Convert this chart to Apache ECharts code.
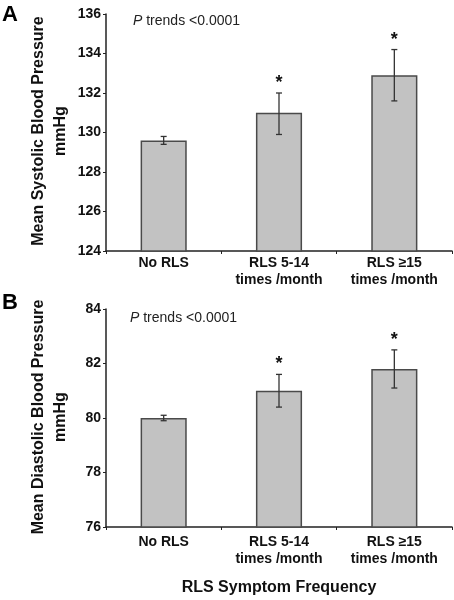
<!DOCTYPE html>
<html>
<head>
<meta charset="utf-8">
<script src="https://cdn.jsdelivr.net/npm/echarts@6/dist/echarts.min.js"></script>
<style>
html,body{margin:0;padding:0;background:#fff;}
#chart{width:454px;height:600px;}
</style>
</head>
<body>
<div id="chart"></div>
<script>
// ---- data ----
var categories = ['No RLS', 'RLS 5-14\ntimes /month', 'RLS \u226515\ntimes /month'];
var sbpMean = [129.6, 131.0, 132.9];
var sbpLow  = [129.4, 129.9, 131.6];
var sbpHigh = [129.8, 132.0, 134.2];
var dbpMean = [80.0, 81.0, 81.8];
var dbpLow  = [79.9, 80.4, 81.1];
var dbpHigh = [80.1, 81.6, 82.5];
var significant = [false, true, true];
var sbpTicks = [124, 126, 128, 130, 132, 134, 136];
var dbpTicks = [76, 78, 80, 82, 84];
var sbpName = ['Mean Systolic Blood Pressure', 'mmHg'];
var dbpName = ['Mean Diastolic Blood Pressure', 'mmHg'];
var pText = 'P trends <0.0001';

var FONT = '"Liberation Sans", Arial, sans-serif';
var chart = echarts.init(document.getElementById('chart'), null, {renderer: 'canvas'});

function errData(low, high) {
  return low.map(function (l, i) { return [i, l, high[i], significant[i] ? 1 : 0]; });
}
function errRender(params, api) {
  var x = api.value(0);
  var lo = api.coord([x, api.value(1)]);
  var hi = api.coord([x, api.value(2)]);
  var cap = 3;
  var st = {stroke: '#333', lineWidth: 1.3};
  var children = [
    {type: 'line', shape: {x1: lo[0], y1: lo[1], x2: hi[0], y2: hi[1]}, style: st},
    {type: 'line', shape: {x1: lo[0] - cap, y1: lo[1], x2: lo[0] + cap, y2: lo[1]}, style: st},
    {type: 'line', shape: {x1: hi[0] - cap, y1: hi[1], x2: hi[0] + cap, y2: hi[1]}, style: st}
  ];
  if (api.value(3)) {
    children.push({type: 'text', style: {text: '*', x: hi[0], y: hi[1] - 10, align: 'center', verticalAlign: 'middle',
      font: 'bold 18px ' + FONT, fill: '#111'}});
  }
  return {type: 'group', children: children};
}

function yAxis(idx, ticks) {
  return {
    type: 'value', gridIndex: idx, min: ticks[0], max: ticks[ticks.length - 1], interval: 2,
    axisLine: {show: true, lineStyle: {color: '#222', width: 1.5}},
    axisTick: {show: true, length: 3, lineStyle: {color: '#222'}},
    splitLine: {show: false},
    axisLabel: {fontFamily: FONT, fontWeight: 'bold', fontSize: 14, color: '#111', margin: 5}
  };
}
function xAxis(idx, margin, name) {
  var ax = {
    type: 'category', gridIndex: idx, data: categories,
    axisLine: {lineStyle: {color: '#222', width: 1.5}},
    axisTick: {show: true, length: 3, lineStyle: {color: '#222'}},
    axisLabel: {fontFamily: FONT, fontWeight: 'bold', fontSize: 14, color: '#111', margin: margin, lineHeight: 17}
  };
  if (name) {
    ax.name = name; ax.nameLocation = 'middle'; ax.nameGap = 53;
    ax.nameTextStyle = {fontFamily: FONT, fontWeight: 'bold', fontSize: 16, color: '#111'};
  }
  return ax;
}
function vText(txt, x, y) {
  return {type: 'text', x: x, y: y, rotation: Math.PI / 2,
    style: {text: txt, font: 'bold 16px ' + FONT, fill: '#111', align: 'center', verticalAlign: 'middle'}};
}
var barStyle = {color: '#c2c2c2', borderColor: '#4a4a4a', borderWidth: 1.5};

chart.setOption({
  animation: false,
  backgroundColor: '#fff',
  grid: [
    {left: 106, top: 14, width: 346, height: 237},
    {left: 106, top: 309, width: 346, height: 218}
  ],
  xAxis: [xAxis(0, 4, null), xAxis(1, 7, 'RLS Symptom Frequency')],
  yAxis: [yAxis(0, sbpTicks), yAxis(1, dbpTicks)],
  graphic: [
    {type: 'text', left: 2, top: 4, style: {text: 'A', font: 'bold 22px ' + FONT, fill: '#000'}},
    {type: 'text', left: 2, top: 292, style: {text: 'B', font: 'bold 22px ' + FONT, fill: '#000'}},
    vText(sbpName[0], 39, 131), vText(sbpName[1], 61, 131),
    vText(dbpName[0], 39, 417), vText(dbpName[1], 61, 417),
    {type: 'text', left: 133, top: 14, style: {rich: {i: {fontStyle: 'italic', fontFamily: FONT, fontSize: 14, fill: '#222'}, n: {fontFamily: FONT, fontSize: 14, fill: '#222'}},
      text: '{i|P}{n|' + pText.slice(1) + '}'}},
    {type: 'text', left: 130, top: 311, style: {rich: {i: {fontStyle: 'italic', fontFamily: FONT, fontSize: 14, fill: '#222'}, n: {fontFamily: FONT, fontSize: 14, fill: '#222'}},
      text: '{i|P}{n|' + pText.slice(1) + '}'}}
  ],
  series: [
    {type: 'bar', xAxisIndex: 0, yAxisIndex: 0, data: sbpMean, barWidth: '40%', itemStyle: barStyle, silent: true},
    {type: 'custom', xAxisIndex: 0, yAxisIndex: 0, data: errData(sbpLow, sbpHigh), renderItem: errRender, z: 5},
    {type: 'bar', xAxisIndex: 1, yAxisIndex: 1, data: dbpMean, barWidth: '40%', itemStyle: barStyle, silent: true},
    {type: 'custom', xAxisIndex: 1, yAxisIndex: 1, data: errData(dbpLow, dbpHigh), renderItem: errRender, z: 5}
  ]
});
</script>
</body>
</html>
